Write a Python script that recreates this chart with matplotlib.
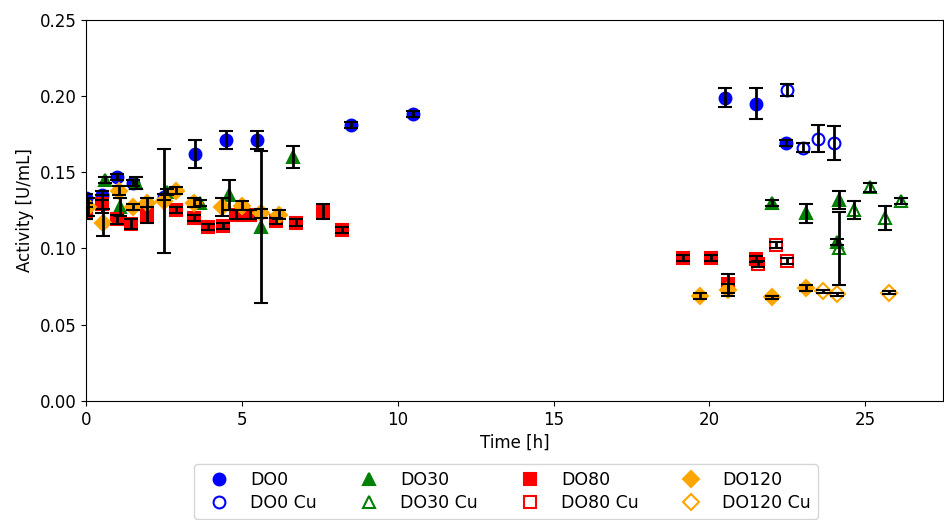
import numpy as np
import matplotlib
matplotlib.use("Agg")
import matplotlib.pyplot as plt
from matplotlib.lines import Line2D

plt.rcParams["font.size"] = 12

# DO0
do0_t = [0.0, 0.5, 1.0, 1.5, 2.5, 3.5, 4.5, 5.5, 8.5, 10.5, 20.5, 21.5, 22.45]
do0_y = [0.133, 0.135, 0.147, 0.143, 0.134, 0.162, 0.171, 0.171, 0.181, 0.188, 0.199, 0.195, 0.169]
do0_e = [0.003, 0.003, 0.002, 0.002, 0.002, 0.009, 0.006, 0.006, 0.002, 0.002, 0.006, 0.010, 0.002]

do0cu_t = [22.5, 23.0, 23.5, 24.0]
do0cu_y = [0.204, 0.166, 0.172, 0.169]
do0cu_e = [0.004, 0.003, 0.009, 0.011]

# DO30
do30_t = [0.6, 1.1, 1.6, 2.6, 3.65, 4.6, 5.6, 6.65, 22.0, 23.1, 24.15, 24.1]
do30_y = [0.145, 0.127, 0.143, 0.137, 0.130, 0.135, 0.114, 0.160, 0.130, 0.123, 0.132, 0.104]
do30_e = [0.002, 0.006, 0.004, 0.002, 0.002, 0.010, 0.050, 0.007, 0.002, 0.006, 0.006, 0.002]

do30cu_t = [24.15, 24.65, 25.15, 25.65, 26.15]
do30cu_y = [0.100, 0.125, 0.140, 0.120, 0.131]
do30cu_e = [0.024, 0.006, 0.003, 0.008, 0.002]

# DO80
do80_t = [0.0, 0.5, 1.0, 1.45, 1.95, 2.9, 3.45, 3.9, 4.4, 4.8, 5.25, 6.1, 6.75, 7.6, 8.2,
          19.15, 20.05, 20.6, 21.5]
do80_y = [0.123, 0.129, 0.119, 0.116, 0.122, 0.125, 0.120, 0.114, 0.115, 0.122, 0.122,
          0.118, 0.117, 0.124, 0.112, 0.094, 0.094, 0.077, 0.093]
do80_e = [0.004, 0.006, 0.003, 0.003, 0.005, 0.002, 0.002, 0.002, 0.002, 0.003, 0.003,
          0.002, 0.002, 0.005, 0.002, 0.002, 0.002, 0.006, 0.002]

do80cu_t = [21.55, 22.15, 22.5]
do80cu_y = [0.090, 0.102, 0.092]
do80cu_e = [0.002, 0.002, 0.002]

# DO120
do120_t = [0.05, 0.55, 1.05, 1.5, 1.95, 2.5, 2.9, 3.45, 4.35, 5.0, 5.6, 6.2,
           19.7, 20.6, 22.0, 23.1]
do120_y = [0.127, 0.117, 0.138, 0.127, 0.130, 0.131, 0.138, 0.130, 0.127, 0.128, 0.123, 0.122,
           0.069, 0.073, 0.068, 0.074]
do120_e = [0.006, 0.009, 0.003, 0.002, 0.003, 0.034, 0.002, 0.003, 0.006, 0.003, 0.003, 0.003,
           0.002, 0.004, 0.001, 0.002]

do120cu_t = [23.65, 24.1, 25.75]
do120cu_y = [0.072, 0.070, 0.071]
do120cu_e = [0.001, 0.001, 0.001]

fig = plt.figure(figsize=(9.45, 5.2), dpi=100)
ax = fig.add_axes([0.091, 0.229, 0.907, 0.733])

series = [
    (do0_t, do0_y, do0_e, "o", "blue", True, "DO0"),
    (do0cu_t, do0cu_y, do0cu_e, "o", "blue", False, "DO0 Cu"),
    (do30_t, do30_y, do30_e, "^", "green", True, "DO30"),
    (do30cu_t, do30cu_y, do30cu_e, "^", "green", False, "DO30 Cu"),
    (do80_t, do80_y, do80_e, "s", "red", True, "DO80"),
    (do80cu_t, do80cu_y, do80cu_e, "s", "red", False, "DO80 Cu"),
    (do120_t, do120_y, do120_e, "D", "orange", True, "DO120"),
    (do120cu_t, do120cu_y, do120cu_e, "D", "orange", False, "DO120 Cu"),
]

handles = []
for t, y, e, m, c, filled, lab in series:
    mfc = c if filled else "none"
    cont = ax.errorbar(t, y, yerr=e, fmt=m, mfc=mfc, mec=c, mew=1.5, ms=8.5,
                       ecolor="black", elinewidth=2, capsize=5, capthick=2,
                       linestyle="none", zorder=2)
    # error bars on top of the markers, like the original
    for cap in cont[1]:
        cap.set_zorder(3)
    for bar in cont[2]:
        bar.set_zorder(3)
    handles.append(Line2D([], [], marker=m, linestyle="none", mfc=mfc, mec=c, mew=1.5,
                          ms=8.5, label=lab))

ax.set_xlim(0, 27.5)
ax.set_ylim(0, 0.25)
ax.set_xticks([0, 5, 10, 15, 20, 25])
ax.set_yticks([0, 0.05, 0.10, 0.15, 0.20, 0.25])
ax.yaxis.set_major_formatter(matplotlib.ticker.FormatStrFormatter("%.2f"))
ax.set_xlabel("Time [h]")
ax.set_ylabel("Activity [U/mL]")

ax.legend(handles=handles, loc="upper center", bbox_to_anchor=(0.49, -0.143), ncol=4,
          columnspacing=2.0, fontsize=12.5, labelspacing=0.3)

fig.savefig("out.png", dpi=100)
